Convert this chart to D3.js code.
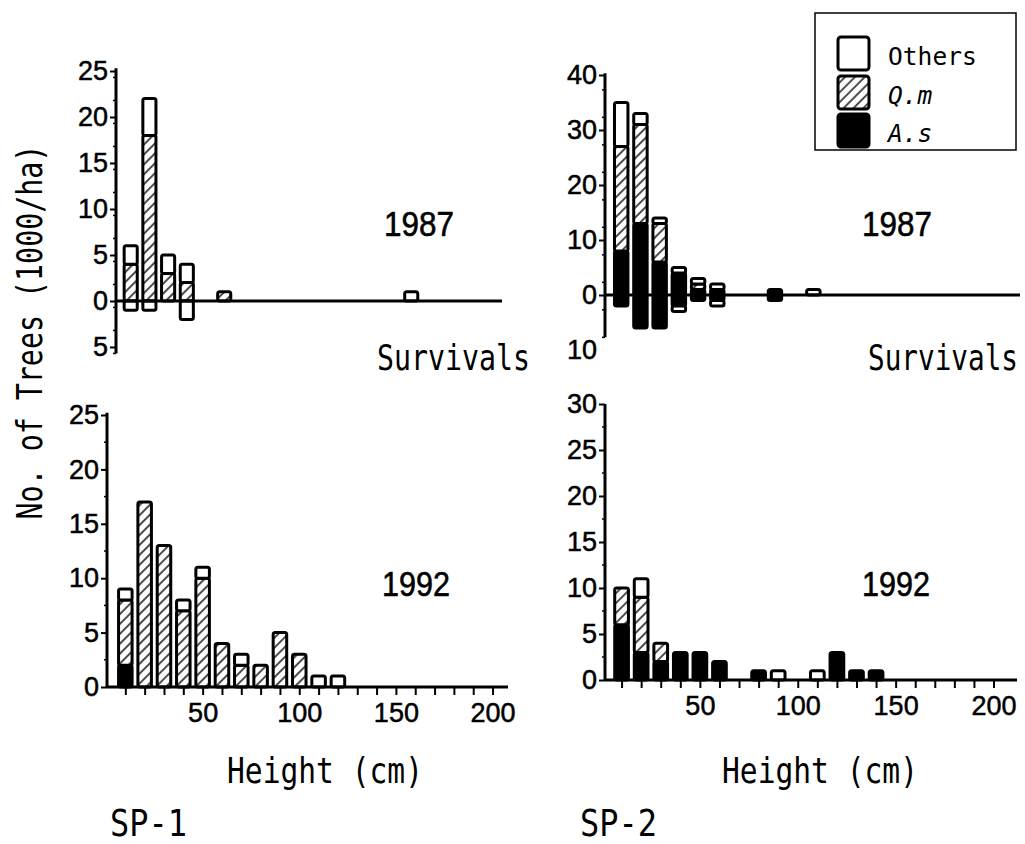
<!DOCTYPE html>
<html><head><meta charset="utf-8">
<script src="https://cdn.jsdelivr.net/npm/d3@7"></script>
<style>body{margin:0;background:#fff} svg{display:block}</style>
</head><body>
<svg id="chart" width="1025" height="844"></svg>
<script>
// ---------- DATA ----------
const legendLabels = ["Others", "Q.m", "A.s"];
// SP-1, 1987 (survivals; "lost" drawn below zero)
const sp1_1987_height = [10, 20, 30, 40, 60, 160];
const sp1_1987_As     = [0, 0, 0, 0, 0, 0];
const sp1_1987_Qm     = [4, 18, 3, 2, 1, 0];
const sp1_1987_Others = [2, 4, 2, 2, 0, 1];
const sp1_1987_lostAs     = [0, 0, 0, 0, 0, 0];
const sp1_1987_lostOthers = [1, 1, 0, 2, 0, 0];
// SP-2, 1987
const sp2_1987_height = [10, 20, 30, 40, 50, 60, 90, 110];
const sp2_1987_As     = [8, 13, 6, 4, 1, 1, 1, 0];
const sp2_1987_Qm     = [19, 18, 7, 0, 1, 0, 0, 0];
const sp2_1987_Others = [8, 2, 1, 1, 1, 1, 0, 1];
const sp2_1987_lostAs     = [2, 6, 6, 2, 1, 1, 1, 0];
const sp2_1987_lostOthers = [0, 0, 0, 1, 0, 1, 0, 0];
// SP-1, 1992
const sp1_1992_height = [10, 20, 30, 40, 50, 60, 70, 80, 90, 100, 110, 120];
const sp1_1992_As     = [2, 0, 0, 0, 0, 0, 0, 0, 0, 0, 0, 0];
const sp1_1992_Qm     = [6, 17, 13, 7, 10, 4, 2, 2, 5, 3, 0, 0];
const sp1_1992_Others = [1, 0, 0, 1, 1, 0, 1, 0, 0, 0, 1, 1];
// SP-2, 1992
const sp2_1992_height = [10, 20, 30, 40, 50, 60, 80, 90, 110, 120, 130, 140];
const sp2_1992_As     = [6, 3, 2, 3, 3, 2, 1, 0, 0, 3, 1, 1];
const sp2_1992_Qm     = [4, 6, 2, 0, 0, 0, 0, 0, 0, 0, 0, 0];
const sp2_1992_Others = [0, 2, 0, 0, 0, 0, 0, 1, 1, 0, 0, 0];
// tick labels
const xTickValues = [10,20,30,40,50,60,70,80,90,100,110,120,130,140,150,160,170,180,190,200];
const xTickLabels = [50, 100, 150, 200];
const ticksTL = [25, 20, 15, 10, 5, 0, -5];
const ticksTR = [40, 30, 20, 10, 0, -10];
const ticksBL = [25, 20, 15, 10, 5, 0];
const ticksBR = [30, 25, 20, 15, 10, 5, 0];

// ---------- DRAW ----------
const svg = d3.select("#chart");
const defs = svg.append("defs");
const pat = defs.append("pattern").attr("id", "hatch")
  .attr("patternUnits", "userSpaceOnUse").attr("width", 7).attr("height", 7)
  .attr("patternTransform", "rotate(45)");
pat.append("rect").attr("width", 7).attr("height", 7).attr("fill", "#fff");
pat.append("line").attr("x1", 1).attr("y1", 0).attr("x2", 1).attr("y2", 7)
  .attr("stroke", "#000").attr("stroke-width", 1.4);

const fills = {As: "#000", Qm: "url(#hatch)", Others: "#fff"};
const tickFont = "'Liberation Sans', Arial, sans-serif";
const monoFont = "'DejaVu Sans Mono', 'Liberation Mono', monospace";

function panel(cfg) {
  const x = d3.scaleLinear().domain(cfg.xDomain).range(cfg.xRange);
  const y = d3.scaleLinear().domain(cfg.yDomain).range(cfg.yRange);
  const g = svg.append("g");
  const bw = 7; // bar width in cm
  cfg.heights.forEach((h, i) => {
    let acc = 0;
    [["As", cfg.As], ["Qm", cfg.Qm], ["Others", cfg.Others]].forEach(([k, arr]) => {
      const v = arr[i];
      if (v > 0) {
        g.append("rect").attr("x", x(h - bw / 2)).attr("width", x(h + bw / 2) - x(h - bw / 2))
          .attr("y", y(acc + v)).attr("height", y(acc) - y(acc + v))
          .attr("rx", 2).attr("fill", fills[k]).attr("stroke", "#000").attr("stroke-width", 3);
        acc += v;
      }
    });
    let neg = 0;
    [["As", cfg.lostAs], ["Others", cfg.lostOthers]].forEach(([k, arr]) => {
      if (!arr) return;
      const v = arr[i];
      if (v > 0) {
        g.append("rect").attr("x", x(h - bw / 2)).attr("width", x(h + bw / 2) - x(h - bw / 2))
          .attr("y", y(neg)).attr("height", y(neg - v) - y(neg))
          .attr("rx", 2).attr("fill", fills[k]).attr("stroke", "#000").attr("stroke-width", 3);
        neg -= v;
      }
    });
  });
  if (cfg.xAxis) {
    const ax = g.append("g").attr("transform", `translate(0,${y(0)})`)
      .call(d3.axisBottom(x).tickValues(xTickValues)
        .tickFormat(d => xTickLabels.includes(d) ? d : "")
        .tickSize(8).tickPadding(8));
    ax.select(".domain").remove();
    ax.selectAll(".tick line").attr("stroke-width", 2);
    ax.selectAll("text").attr("font-family", tickFont).attr("font-size", 27).attr("fill", "#000")
      .attr("stroke", "#000").attr("stroke-width", 0.5);
  }
  g.append("line").attr("x1", cfg.axisX).attr("x2", cfg.xEnd)
    .attr("y1", y(0)).attr("y2", y(0)).attr("stroke", "#000").attr("stroke-width", 3);
  const ay = g.append("g").attr("transform", `translate(${cfg.axisX},0)`)
    .call(d3.axisLeft(y).tickValues(cfg.ticks).tickFormat(d => Math.abs(d))
      .tickSize(6).tickPadding(2));
  ay.select(".domain").remove();
  ay.selectAll(".tick line").attr("stroke-width", 2)
    .attr("display", d => d < cfg.yAxisBottom ? "none" : null);
  ay.selectAll("text").attr("font-family", tickFont).attr("font-size", 27).attr("fill", "#000")
    .attr("stroke", "#000").attr("stroke-width", 0.5);
  const step = cfg.ticks[0] - cfg.ticks[1];
  const minors = d3.range(cfg.yAxisBottom, cfg.yAxisTop, step / 2)
    .filter(v => !cfg.ticks.includes(v));
  g.selectAll(null).data(minors).enter().append("line")
    .attr("x1", cfg.axisX - 3).attr("x2", cfg.axisX).attr("y1", d => y(d)).attr("y2", d => y(d))
    .attr("stroke", "#000").attr("stroke-width", 1.5);
  g.append("line").attr("x1", cfg.axisX).attr("x2", cfg.axisX)
    .attr("y1", y(cfg.yAxisTop)).attr("y2", y(cfg.yAxisBottom))
    .attr("stroke", "#000").attr("stroke-width", 3);
}

panel({xDomain: [0, 208], xRange: [112, 501], yDomain: [-5, 25], yRange: [347, 71],
  axisX: 116, xEnd: 502, yAxisTop: 25.3, yAxisBottom: -5.7, ticks: ticksTL,
  heights: sp1_1987_height, As: sp1_1987_As, Qm: sp1_1987_Qm, Others: sp1_1987_Others,
  lostAs: sp1_1987_lostAs, lostOthers: sp1_1987_lostOthers, xAxis: false});
panel({xDomain: [0, 217], xRange: [602, 1019], yDomain: [-10, 40], yRange: [350, 75],
  axisX: 605, xEnd: 1020, yAxisTop: 40.3, yAxisBottom: -7.7, ticks: ticksTR,
  heights: sp2_1987_height, As: sp2_1987_As, Qm: sp2_1987_Qm, Others: sp2_1987_Others,
  lostAs: sp2_1987_lostAs, lostOthers: sp2_1987_lostOthers, xAxis: false});
panel({xDomain: [0, 208], xRange: [106, 508], yDomain: [0, 25], yRange: [687, 415],
  axisX: 107, xEnd: 508, yAxisTop: 25.2, yAxisBottom: 0, ticks: ticksBL,
  heights: sp1_1992_height, As: sp1_1992_As, Qm: sp1_1992_Qm, Others: sp1_1992_Others, xAxis: true});
panel({xDomain: [0, 212], xRange: [602, 1017], yDomain: [0, 30], yRange: [680, 404],
  axisX: 605, xEnd: 1017, yAxisTop: 30, yAxisBottom: 0, ticks: ticksBR,
  heights: sp2_1992_height, As: sp2_1992_As, Qm: sp2_1992_Qm, Others: sp2_1992_Others, xAxis: true});

// texts: scaled horizontally to the measured width
function txt(s, x, y, opts) {
  const g = svg.append("g");
  const t = g.append("text").attr("x", 0).attr("y", 0).text(s)
    .attr("font-family", opts.font || monoFont).attr("font-size", opts.size)
    .attr("fill", "#000");
  if (opts.heavy) t.attr("stroke", "#000").attr("stroke-width", 0.6);
  if (opts.italic) t.attr("font-style", "italic");
  const w = t.node().getComputedTextLength();
  const sx = opts.len ? opts.len / w : 1;
  let dx = 0;
  if (opts.anchor === "middle") dx = -opts.len / 2;
  if (opts.anchor === "end") dx = -opts.len;
  if (opts.rotate) {
    g.attr("transform", `translate(${x},${y}) rotate(-90) translate(${dx},0) scale(${sx},1)`);
  } else {
    g.attr("transform", `translate(${x + dx},${y}) scale(${sx},1)`);
  }
  return g;
}
txt("1987", 384, 236, {font: tickFont, size: 36, len: 70, heavy: true});
txt("1987", 862, 236, {font: tickFont, size: 36, len: 70, heavy: true});
txt("1992", 382, 596, {font: tickFont, size: 36, len: 68, heavy: true});
txt("1992", 862, 596, {font: tickFont, size: 36, len: 68, heavy: true});
txt("Survivals", 377, 370, {size: 36, len: 153});
txt("Survivals", 868, 370, {size: 36, len: 150});
txt("Height (cm)", 227, 783, {size: 35, len: 196});
txt("Height (cm)", 722, 783, {size: 35, len: 196});
txt("SP-1", 110, 836, {size: 38, len: 77});
txt("SP-2", 580, 836, {size: 38, len: 77});
txt("No. of Trees (1000/ha)", 42, 332, {size: 36, len: 375, anchor: "middle", rotate: true});

// legend
svg.append("rect").attr("x", 815).attr("y", 13).attr("width", 201).attr("height", 137)
  .attr("fill", "#fff").attr("stroke", "#000").attr("stroke-width", 1.5);
const legFill = ["#fff", "url(#hatch)", "#000"];
const legY = [37, 76, 114];
legendLabels.forEach((l, i) => {
  svg.append("rect").attr("x", 838).attr("y", legY[i]).attr("width", 31).attr("height", 33)
    .attr("rx", 3).attr("fill", legFill[i]).attr("stroke", "#000").attr("stroke-width", 3);
  txt(l, 888, legY[i] + 28, {size: 25, len: l.length * 14.8, italic: i > 0});
});
</script>
</body></html>
